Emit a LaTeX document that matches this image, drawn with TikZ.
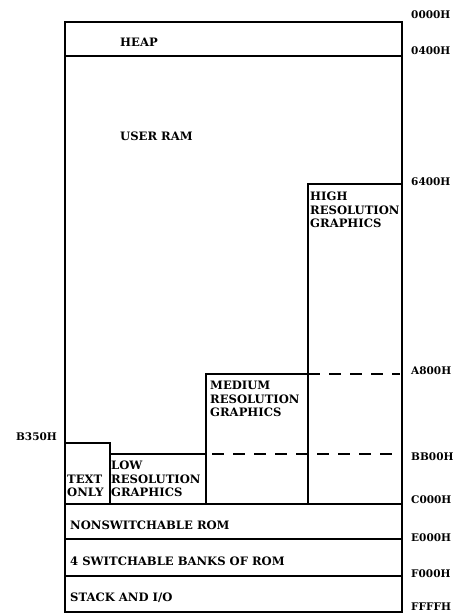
\documentclass[tikz,border=0pt]{standalone}
\usepackage{fontspec}
\setmainfont{DejaVu Serif}
\usetikzlibrary{positioning}
\tikzset{
  memlabel/.style={font=\bfseries\fontsize{11.6}{13.5}\selectfont, inner sep=0pt, align=left},
  memline/.style={line width=1.5pt},
  adrlabel/.style={font=\bfseries\fontsize{10.5}{12}\selectfont, inner sep=0pt, anchor=west}
}

\begin{document}
\begin{tikzpicture}[x=1pt,y=-1pt]
        \useasboundingbox (0,0) rectangle (469,615);
        % outer frame and full-width partitions
        \draw[memline,line width=1.8pt] (65,22) rectangle (402,612);
        \foreach \y in {56,504,539,576} {
          \draw[memline] (65,\y) -- (402,\y);
        }
        % video buffers
        \draw[memline] (308,504) -- (308,184) -- (402,184);
        \draw[memline] (206,504) -- (206,374) -- (308,374);
        \draw[memline] (65,443) -- (110,443) -- (110,504);
        \draw[memline] (110,454) -- (206,454);
        \draw[line width=1.3pt,dash pattern=on 12pt off 9pt] (308,374) -- (400,374);
        \draw[line width=1.3pt,dash pattern=on 12pt off 9pt] (212,454) -- (400,454);
        % region names
        \node[memlabel,anchor=west] (heap) at (120,42) {HEAP};
        \node[memlabel,anchor=west] (userram) at (120,136) {USER RAM};
        \node[memlabel,anchor=north west] (hires) at (310,192) {HIGH\\RESOLUTION\\GRAPHICS};
        \node[memlabel,anchor=north west] (medres) at (210,381) {MEDIUM\\RESOLUTION\\GRAPHICS};
        \node[memlabel,anchor=north west] (lores) at (111,461) {LOW\\RESOLUTION\\GRAPHICS};
        \node[memlabel,anchor=south west] (textonly) at (67,497) {TEXT\\ONLY};
        \node[memlabel,anchor=west] (nonsw) at (70,525) {NONSWITCHABLE ROM};
        \node[memlabel,anchor=west] (banks) at (70,561) {4 SWITCHABLE BANKS OF ROM};
        \node[memlabel,anchor=west] (stack) at (70,598) {STACK AND I/O};
        % addresses
        \foreach \a/\y in {0000H/15, 0400H/51, 6400H/182, A800H/371, BB00H/457, C000H/500, E000H/538, F000H/574, FFFFH/607} {
          \node[adrlabel] (adr\a) at (411,\y) {\a};
        }
        \node[adrlabel,anchor=east] (adrB350H) at (57,437) {B350H};
      \end{tikzpicture}
\end{document}
